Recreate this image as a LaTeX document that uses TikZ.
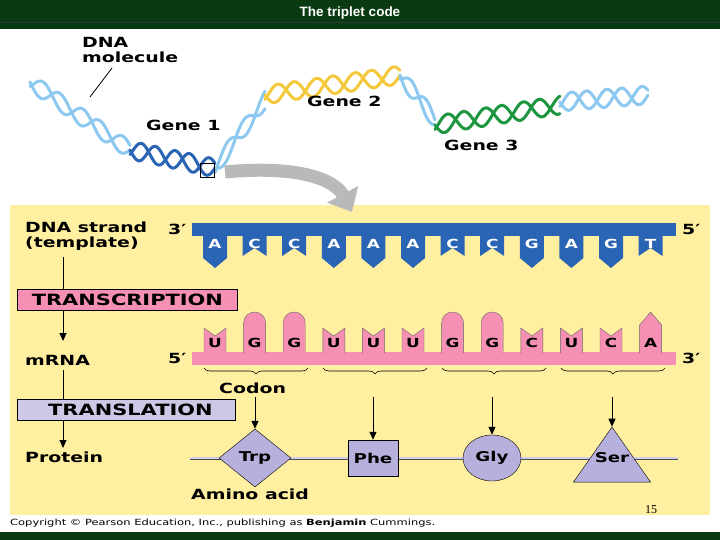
\documentclass[tikz,border=0pt]{standalone}
\usepackage{fontspec}
\setmainfont{DejaVu Sans}[FakeStretch=1.35]
\newfontfamily\arialf{Liberation Sans}
\usetikzlibrary{shapes.geometric,arrows.meta,decorations.pathreplacing}
\definecolor{bar}{HTML}{0A3A12}
\definecolor{panel}{HTML}{FFEFA0}
\definecolor{dblue}{HTML}{2A64B4}
\definecolor{lblue}{HTML}{8CC8F0}
\definecolor{pinkr}{HTML}{F590B4}
\definecolor{lav}{HTML}{B8B0DC}
\definecolor{gyel}{HTML}{F5C83C}
\definecolor{ggrn}{HTML}{1E9640}
\tikzset{
 lbl/.style={font=\bfseries\fontsize{14}{15}\selectfont, inner sep=0pt, anchor=west, align=left},
 box/.style={draw=black, line width=0.8pt, font=\bfseries\fontsize{15.5}{16}\selectfont, anchor=west, inner sep=2pt, minimum height=21pt},
 arr/.style={-{Triangle[length=8pt,width=7pt]}, line width=1pt},
 amino/.style={draw=black, fill=lav, font=\bfseries\fontsize{13.5}{15}\selectfont, inner sep=1pt},
 strand/.style={line width=3pt, line cap=round},
 base/.style={font=\bfseries\fontsize{12.5}{15}\selectfont},
}
\begin{document}
\begin{tikzpicture}[x=1pt,y=-1pt]
\useasboundingbox (0,0) rectangle (720,540);
\fill[white] (0,0) rectangle (720,540);
\fill[bar] (0,0) rectangle (720,29);
\draw[black!80, line width=1pt] (0,23) -- (720,23);
\node[text=white, font=\arialf\bfseries\fontsize{13.5}{15}\selectfont] (title) at (350,13) {The triplet code};
% helix
\newcommand{\hx}[6]{% x0 y0 x1 y1 color turns
 \draw[#5, strand, domain=0:1, samples=80, smooth] plot ({#1+(#3-#1)*\x},{#2+(#4-#2)*\x+9*sin(360*#6*\x)});
 \draw[#5, strand, domain=0:1, samples=80, smooth] plot ({#1+(#3-#1)*\x},{#2+(#4-#2)*\x+9*sin(360*#6*\x+150)});}
\hx{30}{82}{130}{150}{lblue}{2.5}
\hx{130}{150}{215}{168}{dblue}{2.5}
\hx{215}{168}{265}{100}{lblue}{1.3}
\hx{265}{95}{400}{75}{gyel}{3.5}
\hx{400}{75}{435}{120}{lblue}{1}
\hx{435}{125}{560}{105}{ggrn}{3.3}
\hx{560}{102}{648}{95}{lblue}{2.5}
\node[lbl] (dnam) at (82,50) {DNA\\molecule};
\coordinate (hpt) at (90,97);
\draw[black, line width=0.8pt] (112,68) -- (hpt);
\node[lbl] (g1) at (146,125) {Gene 1};
\node[lbl] (g2) at (307,101) {Gene 2};
\node[lbl] (g3) at (444,145) {Gene 3};
\node[draw=black, line width=0.8pt, minimum width=14pt, minimum height=14pt, inner sep=0pt] (sel) at (207,170) {};
% panel
\fill[panel] (10,205) rectangle (710,515);
\draw[gray!55, line width=13pt, -{Triangle[length=20pt,width=34pt]}] (225,172) .. controls (300,165) and (335,180) .. (352,212);
% DNA strand
\fill[dblue] (192,223) rectangle (676,236);
\node[lbl] (d3) at (168,229) {3′};
\node[lbl] (d5) at (682,229) {5′};
\foreach \b [count=\i] in {A,C,C,A,A,A,C,C,G,A,G,T}{
 \pgfmathsetmacro{\c}{215+(\i-1)*39.6}
 \ifnum\pdfstrcmp{\b}{A}=0 \def\lng{1}\else\ifnum\pdfstrcmp{\b}{G}=0 \def\lng{1}\else\def\lng{0}\fi\fi
 \if1\lng
  \fill[dblue] (\c-12,234) -- (\c+12,234) -- (\c+12,258) -- (\c,268) -- (\c-12,258) -- cycle;
 \else
  \fill[dblue] (\c-12,234) -- (\c+12,234) -- (\c+12,256) -- (\c,248) -- (\c-12,256) -- cycle;
 \fi
 \node[base, text=white] (db\i) at (\c,244) {\b};
}
% mRNA
\fill[pinkr] (192,352) rectangle (676,365);
\node[lbl] (m5) at (168,358) {5′};
\node[lbl] (m3) at (682,358) {3′};
\foreach \b [count=\i] in {U,G,G,U,U,U,G,G,C,U,C,A}{
 \pgfmathsetmacro{\c}{215+(\i-1)*39.6}
 \ifnum\pdfstrcmp{\b}{G}=0
  \fill[pinkr,draw=black!60,line width=0.4pt] (\c-11,353) -- (\c-11,323) arc[start angle=180,end angle=360,radius=11] -- (\c+11,353);
 \else\ifnum\pdfstrcmp{\b}{A}=0
  \fill[pinkr,draw=black!60,line width=0.4pt] (\c-11,353) -- (\c-11,325) -- (\c,312) -- (\c+11,325) -- (\c+11,353);
 \else
  \fill[pinkr,draw=black!60,line width=0.4pt] (\c-11,353) -- (\c-11,328) -- (\c,336) -- (\c+11,328) -- (\c+11,353);
 \fi\fi
 \node[base] (mb\i) at (\c,343) {\b};
}
% braces
\foreach \i/\a/\bb in {1/204/308,2/323/427,3/442/546,4/561/665}{
 \draw[black, line width=0.6pt, decorate, decoration={brace, amplitude=6pt}] (\bb,368) -- (\a,368);
}
\node[lbl] (codon) at (219,388) {Codon};
% left column
\node[lbl] (dnas) at (25,236) {DNA strand\\(template)};
\node[box, fill=pinkr, minimum width=220pt] (tr) at (17,300) {TRANSCRIPTION};
\node[lbl] (mrna) at (25,360) {mRNA};
\node[box, fill=lav!70, minimum width=218pt] (tl) at (17,410) {\hspace*{8pt}TRANSLATION};
\node[lbl] (prot) at (25,457) {Protein};
\draw[line width=1pt] (63,257) -- (tr.north -| 63,0);
\draw[arr] (tr.south -| 63,0) -- (63,341);
\draw[line width=1pt] (63,370) -- (tl.north -| 63,0);
\draw[arr] (tl.south -| 63,0) -- (63,448);
% protein
\draw[gray!60!black, line width=3pt] (190,458) -- (678,458);
\draw[lav!60, line width=1.2pt] (190,458) -- (678,458);
\node[amino, diamond, minimum width=72pt, minimum height=58pt, inner sep=0pt] (trp) at (255,458) {Trp};
\node[amino, minimum width=50pt, minimum height=36pt] (phe) at (373,458) {Phe};
\node[amino, ellipse, minimum width=58pt, minimum height=46pt, inner sep=0pt] (gly) at (492,458) {Gly};
\node[amino, isosceles triangle, isosceles triangle apex angle=70, shape border rotate=90, minimum height=55pt, inner sep=0pt] (ser) at (612,462) {};
\node[base, font=\bfseries\fontsize{13.5}{15}\selectfont] (sert) at (612,458) {Ser};
\foreach \x/\t in {255/trp,373/phe,492/gly,612/ser}{
 \coordinate (ca\x) at (\x,397);
 \draw[arr] (ca\x) -- (\t.north);
}
\node[lbl] (aa) at (191,494) {Amino acid};
\node[font=\fontspec{Liberation Serif}\fontsize{12}{13}\selectfont] (pg) at (651,510) {15};
\node[lbl, font=\fontsize{8.5}{9}\selectfont] (copy) at (10,523) {Copyright © Pearson Education, Inc., publishing as \textbf{Benjamin} Cummings.};
\fill[bar] (0,532) rectangle (720,540);
\end{tikzpicture}
\end{document}
